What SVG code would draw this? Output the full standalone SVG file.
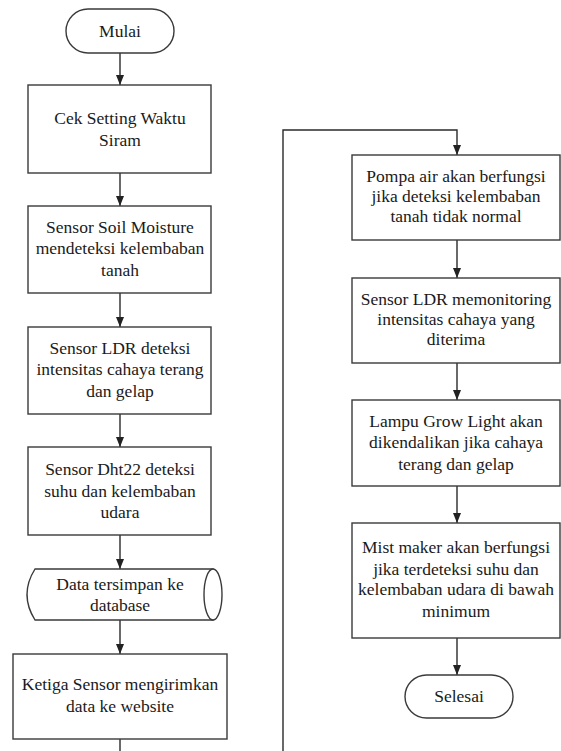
<svg xmlns="http://www.w3.org/2000/svg" width="561" height="751" viewBox="0 0 561 751" font-family="Liberation Serif, Times New Roman, Times, serif">
<defs>
<marker id="ah" markerUnits="userSpaceOnUse" markerWidth="10" markerHeight="10" viewBox="0 0 10 10" refX="10" refY="5" orient="auto">
<path d="M0,1 L10,5 L0,9 Z" fill="#222"/>
</marker>
</defs>
<style>
.box{fill:#fff;stroke:#3a3a3a;stroke-width:1.4}
text{font-size:17.5px;fill:#1a1a1a;text-anchor:middle}
.c{fill:none;stroke:#2a2a2a;stroke-width:1.4}
</style>
<rect width="561" height="751" fill="#fff"/>
<g id="connectors">
<line class="c" x1="120" y1="53" x2="120" y2="85" marker-end="url(#ah)"/>
<line class="c" x1="120" y1="173" x2="120" y2="206" marker-end="url(#ah)"/>
<line class="c" x1="120" y1="293" x2="120" y2="327" marker-end="url(#ah)"/>
<line class="c" x1="120" y1="414" x2="120" y2="447" marker-end="url(#ah)"/>
<line class="c" x1="120" y1="535" x2="120" y2="569" marker-end="url(#ah)"/>
<line class="c" x1="120" y1="620" x2="120" y2="654" marker-end="url(#ah)"/>
<line class="c" x1="120" y1="739" x2="120" y2="751"/>
<path class="c" d="M283,751 V130 H457 V155" marker-end="url(#ah)"/>
<line class="c" x1="457" y1="240" x2="457" y2="278" marker-end="url(#ah)"/>
<line class="c" x1="457" y1="363" x2="457" y2="400" marker-end="url(#ah)"/>
<line class="c" x1="457" y1="486" x2="457" y2="523" marker-end="url(#ah)"/>
<line class="c" x1="457" y1="638" x2="457" y2="675" marker-end="url(#ah)"/>
</g>
<g id="mulai">
<rect class="box" x="66" y="9" width="108" height="44" rx="22"/>
<text x="120" y="37" font-family="Liberation Serif">Mulai</text>
</g>
<g id="cek">
<rect class="box" x="28" y="85" width="183" height="88"/>
<text x="120" y="124">Cek Setting Waktu</text>
<text x="120" y="146">Siram</text>
</g>
<g id="soil">
<rect class="box" x="28" y="206" width="183" height="87"/>
<text x="120" y="233">Sensor Soil Moisture</text>
<text x="120" y="254">mendeteksi kelembaban</text>
<text x="120" y="276">tanah</text>
</g>
<g id="ldr">
<rect class="box" x="28" y="327" width="183" height="87"/>
<text x="120" y="354">Sensor LDR deteksi</text>
<text x="120" y="375">intensitas cahaya terang</text>
<text x="120" y="397">dan gelap</text>
</g>
<g id="dht">
<rect class="box" x="28" y="447" width="183" height="88"/>
<text x="120" y="475">Sensor Dht22 deteksi</text>
<text x="120" y="497">suhu dan kelembaban</text>
<text x="120" y="518">udara</text>
</g>
<g id="database">
<path class="box" d="M35,569 H213 V620 H35 Q19,594.5 35,569 Z"/>
<ellipse class="box" cx="213" cy="594.5" rx="9" ry="25.5"/>
<text x="120" y="590">Data tersimpan ke</text>
<text x="120" y="611">database</text>
</g>
<g id="kirim">
<rect class="box" x="13" y="654" width="214" height="85"/>
<text x="120" y="690">Ketiga Sensor mengirimkan</text>
<text x="120" y="712">data ke website</text>
</g>
<g id="pompa">
<rect class="box" x="352" y="155" width="208" height="85"/>
<text x="456" y="182">Pompa air akan berfungsi</text>
<text x="456" y="202">jika deteksi kelembaban</text>
<text x="456" y="222">tanah tidak normal</text>
</g>
<g id="ldr2">
<rect class="box" x="352" y="278" width="208" height="85"/>
<text x="456" y="305">Sensor LDR memonitoring</text>
<text x="456" y="325">intensitas cahaya yang</text>
<text x="456" y="345">diterima</text>
</g>
<g id="lampu">
<rect class="box" x="352" y="400" width="208" height="86"/>
<text x="456" y="427">Lampu Grow Light akan</text>
<text x="456" y="448">dikendalikan jika cahaya</text>
<text x="456" y="470">terang dan gelap</text>
</g>
<g id="mist">
<rect class="box" x="352" y="523" width="208" height="115"/>
<text x="456" y="553">Mist maker akan berfungsi</text>
<text x="456" y="575">jika terdeteksi suhu dan</text>
<text x="456" y="595">kelembaban udara di bawah</text>
<text x="456" y="617">minimum</text>
</g>
<g id="selesai">
<rect class="box" x="405" y="675" width="108" height="43" rx="21.5"/>
<text x="459" y="702">Selesai</text>
</g>
</svg>
